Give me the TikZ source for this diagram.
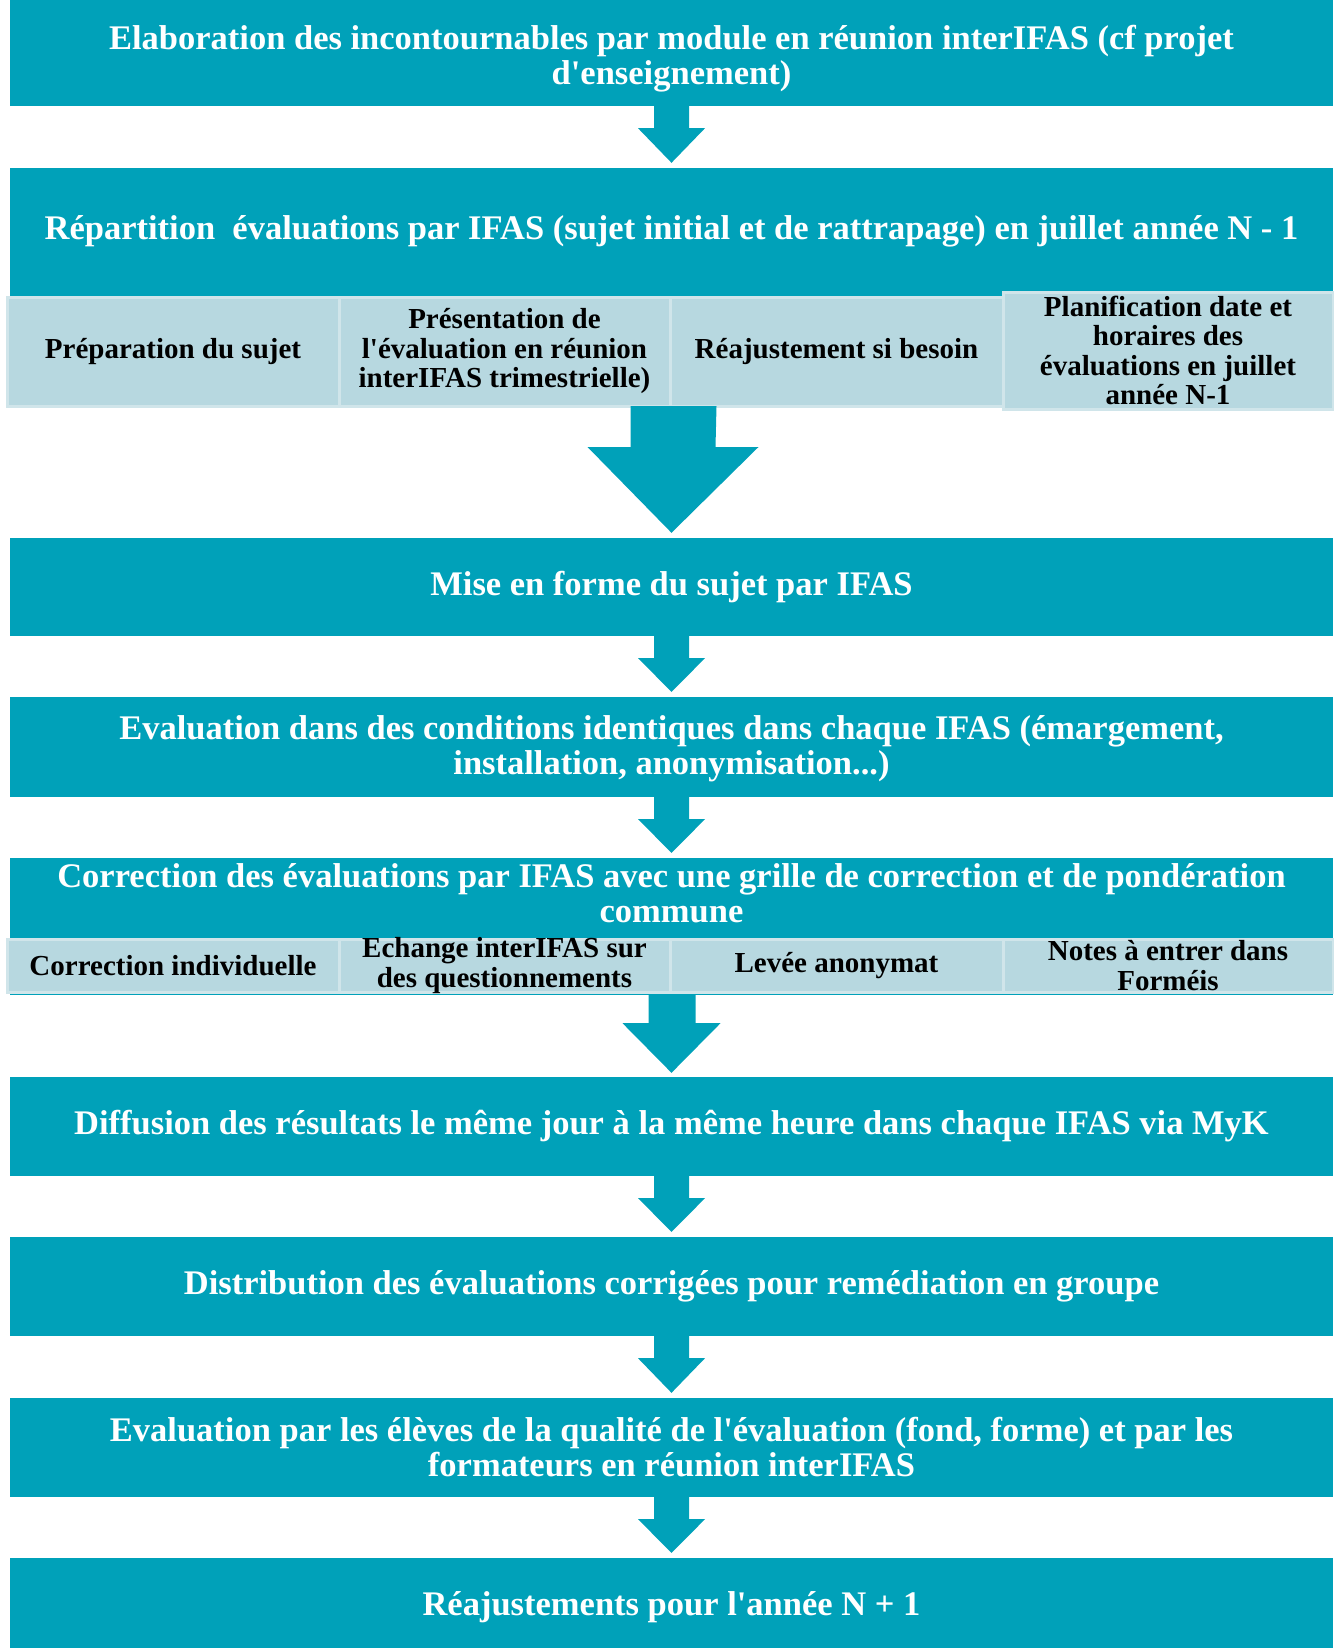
\documentclass[tikz,border=0pt]{standalone}
\usepackage{fontspec}
\setmainfont{Liberation Serif}
\usetikzlibrary{calc}
\definecolor{teal}{RGB}{0,161,185}
\definecolor{pale}{RGB}{183,216,224}
\definecolor{paleline}{RGB}{208,229,234}
\newcommand{\mainfont}{\fontsize{34.5}{35}\selectfont\bfseries}
\newcommand{\subfont}{\fontsize{29}{29.5}\selectfont\bfseries}
\newcommand{\q}{\textquotesingle}
\tikzset{
  mainbox/.style={fill=teal, draw=none, minimum width=1323pt, inner sep=0pt, text=white,
    font=\mainfont, align=center},
  maintext/.style={text=white, font=\mainfont, align=center, inner sep=0pt},
  subbox/.style={fill=pale, draw=paleline, line width=3pt, inner sep=0pt, text=black,
    font=\subfont, align=center},
  subtext/.style={text=black, font=\subfont, align=center, inner sep=0pt},
  blockarrow/.style={fill=teal, draw=none},
}
\begin{document}
\begin{tikzpicture}[x=1pt,y=-1pt]
\useasboundingbox (0,0) rectangle (1333,1648);
% main boxes
\node[mainbox, minimum height=106pt, label={[maintext, yshift=-6pt]center:Elaboration des incontournables par module en réunion interIFAS (cf projet\\d\q enseignement)}] (b1) at (671.5,53) {};
\node[mainbox, minimum height=129pt, label={[maintext, yshift=1pt]center:Répartition\ \ évaluations par IFAS (sujet initial et de rattrapage) en juillet année N - 1}] (b2) at (671.5,232.5) {};
% sub row 1
\node[subbox, minimum width=332pt, minimum height=109pt] (s11) at (173,351.5) {Préparation du sujet};
\node[subbox, minimum width=331pt, minimum height=109pt] (s12) at (504.5,351.5) {Présentation de\\l\q évaluation en réunion\\interIFAS trimestrielle)};
\node[subbox, minimum width=333pt, minimum height=109pt] (s13) at (836.5,351.5) {Réajustement si besoin};
\node[subbox, minimum width=330pt, minimum height=117pt] (s14) at (1168,350.5) {Planification date et\\horaires des\\évaluations en juillet\\année N-1};
\node[mainbox, minimum height=98pt] (b3) at (671.5,587) {Mise en forme du sujet par IFAS};
\node[mainbox, minimum height=100pt, label={[maintext, yshift=-2pt]center:Evaluation dans des conditions identiques dans chaque IFAS (émargement,\\installation, anonymisation...)}] (b4) at (671.5,747) {};
\node[mainbox, minimum height=137pt] (b5) at (671.5,926.5) {};
\node[maintext] (b5t) at (671.5,893) {Correction des évaluations par IFAS avec une grille de correction et de pondération\\commune};
% sub row 2
\node[subbox, minimum width=332pt, minimum height=53pt, label={[subtext]center:Correction individuelle}] (s21) at (173,965.5) {};
\node[subbox, minimum width=331pt, minimum height=53pt, label={[subtext]center:Echange interIFAS sur\\des questionnements}] (s22) at (504.5,965.5) {};
\node[subbox, minimum width=333pt, minimum height=53pt, label={[subtext]center:Levée anonymat}] (s23) at (836.5,965.5) {};
\node[subbox, minimum width=330pt, minimum height=53pt, label={[subtext]center:Notes à entrer dans\\Forméis}] (s24) at (1168,965.5) {};
\node[mainbox, minimum height=99pt] (b6) at (671.5,1126.5) {Diffusion des résultats le même jour à la même heure dans chaque IFAS via MyK};
\node[mainbox, minimum height=99pt] (b7) at (671.5,1286.5) {Distribution des évaluations corrigées pour remédiation en groupe};
\node[mainbox, minimum height=99pt] (b8) at (671.5,1447.5) {Evaluation par les élèves de la qualité de l\q évaluation (fond, forme) et par les\\formateurs en réunion interIFAS};
\node[mainbox, minimum height=99pt] (b9) at (671.5,1607.5) {Réajustements pour l\q année N + 1};
% small arrows: stem 35 wide, head 67 wide
\foreach \a/\b in {b1/b2, b3/b4, b4/b5, b6/b7, b7/b8, b8/b9}{
  \fill[blockarrow] ($(\a.south)+(-17.5,0)$) -- ++(0,22) -- ++(-16,0) -- ($(\b.north)+(0,-5)$)
     -- ($(\a.south)+(33.5,22)$) -- ++(-16,0) -- ($(\a.south)+(17.5,0)$) -- cycle;
}
% big arrow 1 (from sub row 1 to b3)
\coordinate (a1) at ($(s12.south east)+(0,-1.5)$);
\fill[blockarrow] ($(a1)+(-41,0)$) -- ++(0,41) -- ++(-43,0) -- ($(b3.north)+(0,-5)$)
   -- ($(a1)+(87,41)$) -- ++(-43,0) -- ($(a1)+(45,0)$) -- cycle;
% big arrow 2 (from b5 to b6)
\fill[blockarrow] ($(b5.south)+(-23,0)$) -- ++(0,28) -- ++(-26,0) -- ($(b6.north)+(0,-4)$)
   -- ($(b5.south)+(49,28)$) -- ++(-25,0) -- ($(b5.south)+(24,0)$) -- cycle;
\end{tikzpicture}
\end{document}
